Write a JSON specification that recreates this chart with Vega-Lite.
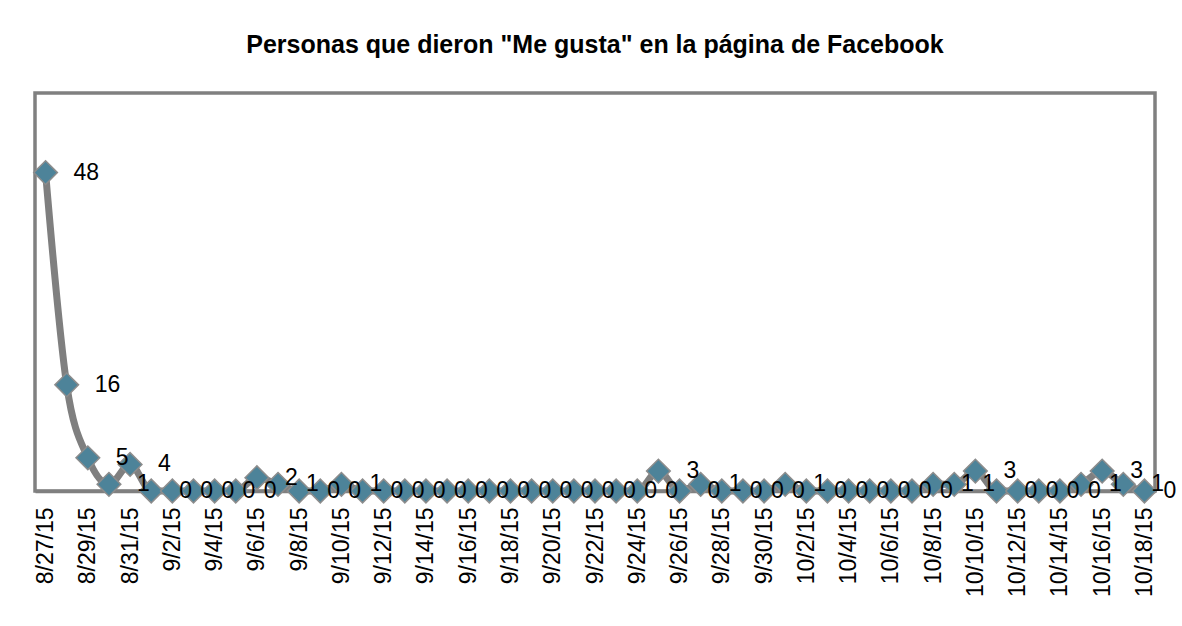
{
  "$schema": "https://vega.github.io/schema/vega-lite/v6.json",
  "width": 1120,
  "height": 398,
  "autosize": {"type": "none"},
  "padding": {"left": 35, "top": 93, "right": 27, "bottom": 135},
  "background": "white",
  "title": {
    "text": "Personas que dieron \"Me gusta\" en la página de Facebook",
    "font": "Liberation Sans",
    "fontSize": 25,
    "fontWeight": "bold",
    "color": "#000000",
    "anchor": "middle",
    "baseline": "alphabetic",
    "offset": 15
  },
  "config": {
    "view": {"stroke": "#808080", "strokeWidth": 3.5},
    "text": {"font": "Liberation Sans"}
  },
  "data": {
    "values": [
      {"fecha": "8/27/15", "likes": 48},
      {"fecha": "8/28/15", "likes": 16},
      {"fecha": "8/29/15", "likes": 5},
      {"fecha": "8/30/15", "likes": 1},
      {"fecha": "8/31/15", "likes": 4},
      {"fecha": "9/1/15", "likes": 0},
      {"fecha": "9/2/15", "likes": 0},
      {"fecha": "9/3/15", "likes": 0},
      {"fecha": "9/4/15", "likes": 0},
      {"fecha": "9/5/15", "likes": 0},
      {"fecha": "9/6/15", "likes": 2},
      {"fecha": "9/7/15", "likes": 1},
      {"fecha": "9/8/15", "likes": 0},
      {"fecha": "9/9/15", "likes": 0},
      {"fecha": "9/10/15", "likes": 1},
      {"fecha": "9/11/15", "likes": 0},
      {"fecha": "9/12/15", "likes": 0},
      {"fecha": "9/13/15", "likes": 0},
      {"fecha": "9/14/15", "likes": 0},
      {"fecha": "9/15/15", "likes": 0},
      {"fecha": "9/16/15", "likes": 0},
      {"fecha": "9/17/15", "likes": 0},
      {"fecha": "9/18/15", "likes": 0},
      {"fecha": "9/19/15", "likes": 0},
      {"fecha": "9/20/15", "likes": 0},
      {"fecha": "9/21/15", "likes": 0},
      {"fecha": "9/22/15", "likes": 0},
      {"fecha": "9/23/15", "likes": 0},
      {"fecha": "9/24/15", "likes": 0},
      {"fecha": "9/25/15", "likes": 3},
      {"fecha": "9/26/15", "likes": 0},
      {"fecha": "9/27/15", "likes": 1},
      {"fecha": "9/28/15", "likes": 0},
      {"fecha": "9/29/15", "likes": 0},
      {"fecha": "9/30/15", "likes": 0},
      {"fecha": "10/1/15", "likes": 1},
      {"fecha": "10/2/15", "likes": 0},
      {"fecha": "10/3/15", "likes": 0},
      {"fecha": "10/4/15", "likes": 0},
      {"fecha": "10/5/15", "likes": 0},
      {"fecha": "10/6/15", "likes": 0},
      {"fecha": "10/7/15", "likes": 0},
      {"fecha": "10/8/15", "likes": 1},
      {"fecha": "10/9/15", "likes": 1},
      {"fecha": "10/10/15", "likes": 3},
      {"fecha": "10/11/15", "likes": 0},
      {"fecha": "10/12/15", "likes": 0},
      {"fecha": "10/13/15", "likes": 0},
      {"fecha": "10/14/15", "likes": 0},
      {"fecha": "10/15/15", "likes": 1},
      {"fecha": "10/16/15", "likes": 3},
      {"fecha": "10/17/15", "likes": 1},
      {"fecha": "10/18/15", "likes": 0}
    ]
  },
  "encoding": {
    "x": {
      "field": "fecha",
      "type": "ordinal",
      "sort": null,
      "scale": {"type": "point", "padding": 0.5},
      "axis": {
        "title": null,
        "values": ["8/27/15","8/29/15","8/31/15","9/2/15","9/4/15","9/6/15","9/8/15","9/10/15","9/12/15","9/14/15","9/16/15","9/18/15","9/20/15","9/22/15","9/24/15","9/26/15","9/28/15","9/30/15","10/2/15","10/4/15","10/6/15","10/8/15","10/10/15","10/12/15","10/14/15","10/16/15","10/18/15"],
        "labelAngle": 270,
        "labelAlign": "right",
        "labelBaseline": "middle",
        "labelFont": "Liberation Sans",
        "labelFontSize": 23,
        "labelColor": "#000000",
        "labelPadding": 16,
        "labelOverlap": false,
        "labelBound": false,
        "ticks": false,
        "domain": true,
        "domainColor": "#808080",
        "domainWidth": 3.5,
        "grid": false
      }
    },
    "y": {
      "field": "likes",
      "type": "quantitative",
      "scale": {"domain": [0, 60], "nice": false},
      "axis": null
    }
  },
  "layer": [
    {
      "mark": {"type": "line", "color": "#7f7f7f", "strokeWidth": 7, "interpolate": "monotone"}
    },
    {
      "mark": {"type": "point", "shape": "diamond", "size": 560, "filled": true, "fill": "#4d8399", "stroke": "#8c8c8c", "strokeWidth": 1.5, "opacity": 1}
    },
    {
      "transform": [{"filter": "datum.fecha != '10/18/15'"}],
      "mark": {"type": "text", "align": "left", "baseline": "middle", "dx": 28, "fontSize": 23, "color": "#000000"},
      "encoding": {"text": {"field": "likes", "type": "quantitative"}}
    },
    {
      "transform": [{"filter": "datum.fecha == '10/18/15'"}],
      "mark": {"type": "text", "align": "left", "baseline": "middle", "dx": 19, "fontSize": 23, "color": "#000000"},
      "encoding": {"text": {"field": "likes", "type": "quantitative"}}
    }
  ]
}
